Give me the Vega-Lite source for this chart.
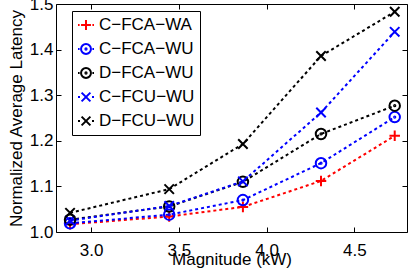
{
  "$schema": "https://vega.github.io/schema/vega-lite/v6.json",
  "width": 351,
  "height": 228,
  "autosize": {"type": "none"},
  "padding": {"left": 56, "top": 4, "right": 2, "bottom": 43},
  "background": "white",
  "config": {
    "view": {"stroke": "black", "strokeWidth": 1},
    "font": "Liberation Sans",
    "axis": {
      "domain": false,
      "grid": false,
      "tickColor": "black",
      "tickWidth": 1,
      "tickSize": -5,
      "labelColor": "black",
      "titleColor": "black",
      "labelFont": "Liberation Sans",
      "titleFont": "Liberation Sans",
      "labelFontSize": 17,
      "titleFontSize": 17,
      "titleFontWeight": "normal"
    }
  },
  "data": {
    "values": [
      {"series": "C−FCA−WA", "x": 2.88, "y": 1.017},
      {"series": "C−FCA−WA", "x": 3.445, "y": 1.034},
      {"series": "C−FCA−WA", "x": 3.865, "y": 1.055},
      {"series": "C−FCA−WA", "x": 4.31, "y": 1.112},
      {"series": "C−FCA−WA", "x": 4.73, "y": 1.211},
      {"series": "C−FCA−WU", "x": 2.88, "y": 1.019},
      {"series": "C−FCA−WU", "x": 3.445, "y": 1.038},
      {"series": "C−FCA−WU", "x": 3.865, "y": 1.07},
      {"series": "C−FCA−WU", "x": 4.31, "y": 1.151},
      {"series": "C−FCA−WU", "x": 4.73, "y": 1.252},
      {"series": "D−FCA−WU", "x": 2.88, "y": 1.027},
      {"series": "D−FCA−WU", "x": 3.445, "y": 1.056},
      {"series": "D−FCA−WU", "x": 3.865, "y": 1.11},
      {"series": "D−FCA−WU", "x": 4.31, "y": 1.215},
      {"series": "D−FCA−WU", "x": 4.73, "y": 1.277},
      {"series": "C−FCU−WU", "x": 2.88, "y": 1.025},
      {"series": "C−FCU−WU", "x": 3.445, "y": 1.057},
      {"series": "C−FCU−WU", "x": 3.865, "y": 1.111},
      {"series": "C−FCU−WU", "x": 4.31, "y": 1.262},
      {"series": "C−FCU−WU", "x": 4.73, "y": 1.439},
      {"series": "D−FCU−WU", "x": 2.88, "y": 1.042},
      {"series": "D−FCU−WU", "x": 3.445, "y": 1.094},
      {"series": "D−FCU−WU", "x": 3.865, "y": 1.193},
      {"series": "D−FCU−WU", "x": 4.31, "y": 1.386},
      {"series": "D−FCU−WU", "x": 4.73, "y": 1.483}
    ]
  },
  "layer": [
    {
      "mark": {"type": "line", "strokeDash": [3, 3], "strokeWidth": 2, "strokeCap": "butt"},
      "encoding": {
        "x": {
          "field": "x", "type": "quantitative",
          "scale": {"domain": [2.8, 4.8], "nice": false, "zero": false},
          "axis": {"orient": "bottom", "values": [3.0, 3.5, 4.0, 4.5], "format": ".1f", "labelPadding": 15, "title": "Magnitude (kW)", "titlePadding": -7, "labelFlush": false}
        },
        "y": {
          "field": "y", "type": "quantitative",
          "scale": {"domain": [1.0, 1.5], "nice": false, "zero": false},
          "axis": {"orient": "left", "values": [1.0, 1.1, 1.2, 1.3, 1.4, 1.5], "format": ".1f", "labelPadding": 8, "title": "Normalized Average Latency", "titlePadding": 4}
        },
        "color": {
          "field": "series", "type": "nominal",
          "scale": {"domain": ["C−FCA−WA", "C−FCA−WU", "D−FCA−WU", "C−FCU−WU", "D−FCU−WU"], "range": ["#ff0000", "#0000ff", "#000000", "#0000ff", "#000000"]},
          "legend": null
        }
      }
    },
    {
      "mark": {"type": "point", "filled": false, "strokeWidth": 2, "size": 110, "opacity": 1},
      "encoding": {
        "x": {"field": "x", "type": "quantitative", "scale": {"domain": [2.8, 4.8], "nice": false, "zero": false}, "axis": null},
        "y": {"field": "y", "type": "quantitative", "scale": {"domain": [1.0, 1.5], "nice": false, "zero": false}, "axis": null},
        "color": {
          "field": "series", "type": "nominal",
          "scale": {"domain": ["C−FCA−WA", "C−FCA−WU", "D−FCA−WU", "C−FCU−WU", "D−FCU−WU"], "range": ["#ff0000", "#0000ff", "#000000", "#0000ff", "#000000"]},
          "legend": null
        },
        "shape": {
          "field": "series", "type": "nominal",
          "scale": {
            "domain": ["C−FCA−WA", "C−FCA−WU", "D−FCA−WU", "C−FCU−WU", "D−FCU−WU"],
            "range": [
              "M-1,0L1,0M0,-1L0,1",
              "M1,0A1,1,0,1,1,-1,0A1,1,0,1,1,1,0M0.12,0A0.12,0.12,0,1,1,-0.12,0A0.12,0.12,0,1,1,0.12,0",
              "M1,0A1,1,0,1,1,-1,0A1,1,0,1,1,1,0M0.12,0A0.12,0.12,0,1,1,-0.12,0A0.12,0.12,0,1,1,0.12,0",
              "M-0.9,-0.9L0.9,0.9M-0.9,0.9L0.9,-0.9",
              "M-0.9,-0.9L0.9,0.9M-0.9,0.9L0.9,-0.9"
            ]
          },
          "legend": null
        }
      }
    },
    {
      "mark": {"type": "point", "filled": false, "strokeWidth": 2, "size": 10, "opacity": 0},
      "encoding": {
        "x": {
          "field": "x", "type": "quantitative", "scale": {"domain": [2.8, 4.8], "nice": false, "zero": false},
          "axis": {"orient": "top", "values": [3.0, 3.5, 4.0, 4.5], "labels": false, "title": null}
        },
        "y": {
          "field": "y", "type": "quantitative", "scale": {"domain": [1.0, 1.5], "nice": false, "zero": false},
          "axis": {"orient": "right", "values": [1.0, 1.1, 1.2, 1.3, 1.4, 1.5], "labels": false, "title": null}
        },
        "color": {
          "field": "series", "type": "nominal",
          "scale": {"domain": ["C−FCA−WA", "C−FCA−WU", "D−FCA−WU", "C−FCU−WU", "D−FCU−WU"], "range": ["#ff0000", "#0000ff", "#000000", "#0000ff", "#000000"]},
          "legend": {
            "orient": "none", "legendX": 16, "legendY": 7, "title": null, "padding": 5,
            "strokeColor": "black", "fillColor": "white", "symbolSize": 256, "symbolStrokeWidth": 2,
            "symbolOpacity": 1, "labelFontSize": 17, "labelFont": "Liberation Sans", "labelColor": "black",
            "rowPadding": 6, "labelOffset": 4, "labelLimit": 0
          }
        },
        "shape": {
          "field": "series", "type": "nominal",
          "scale": {
            "domain": ["C−FCA−WA", "C−FCA−WU", "D−FCA−WU", "C−FCU−WU", "D−FCU−WU"],
            "range": [
              "M-1,0L-0.8,0M-0.62,0L0.62,0M0,-0.62L0,0.62M0.8,0L1,0",
              "M-1,0L-0.8,0M0.8,0L1,0M0.62,0A0.62,0.62,0,1,1,-0.62,0A0.62,0.62,0,1,1,0.62,0M0.08,0A0.08,0.08,0,1,1,-0.08,0A0.08,0.08,0,1,1,0.08,0",
              "M-1,0L-0.8,0M0.8,0L1,0M0.62,0A0.62,0.62,0,1,1,-0.62,0A0.62,0.62,0,1,1,0.62,0M0.08,0A0.08,0.08,0,1,1,-0.08,0A0.08,0.08,0,1,1,0.08,0",
              "M-1,0L-0.75,0M0.75,0L1,0M-0.55,-0.55L0.55,0.55M-0.55,0.55L0.55,-0.55",
              "M-1,0L-0.75,0M0.75,0L1,0M-0.55,-0.55L0.55,0.55M-0.55,0.55L0.55,-0.55"
            ]
          },
          "legend": {
            "orient": "none", "legendX": 16, "legendY": 7, "title": null, "padding": 5,
            "strokeColor": "black", "fillColor": "white", "symbolSize": 256, "symbolStrokeWidth": 2,
            "symbolOpacity": 1, "labelFontSize": 17, "labelFont": "Liberation Sans", "labelColor": "black",
            "rowPadding": 6, "labelOffset": 4, "labelLimit": 0
          }
        }
      }
    }
  ],
  "resolve": {
    "scale": {"color": "independent", "shape": "independent"},
    "axis": {"x": "independent", "y": "independent"}
  }
}
